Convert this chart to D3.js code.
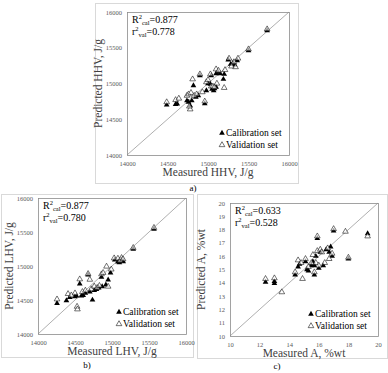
<!DOCTYPE html>
<html><head><meta charset="utf-8">
<script src="https://cdn.jsdelivr.net/npm/d3@7"></script>
<style>body{margin:0;background:#fff}svg{display:block}</style>
</head><body>
<svg id="c" width="388" height="373"></svg>
<script>
// ---- Data ----
const hhvTicks = [14000, 14500, 15000, 15500, 16000];
const hhvCal = [[14490,14700],[14600,14710],[14620,14715],[14740,14760],[14760,14740],[14780,14690],[14800,14760],[14820,14970],[14850,14810],[14880,14830],[14900,15110],[14960,14720],[14980,14900],[15000,15000],[15030,14990],[15040,15110],[15050,14920],[15070,14900],[15080,14930],[15100,14950],[15100,15140],[15120,15160],[15150,15140],[15190,15060],[15200,15130],[15250,15330],[15280,15270],[15310,15290],[15330,15260],[15360,15320],[15500,15460],[15730,15740]];
const hhvVal = [[14490,14740],[14600,14770],[14640,14790],[14740,14830],[14760,14850],[14780,14640],[14770,14680],[14790,14870],[14810,15060],[14830,14830],[14860,14850],[14900,15130],[14930,14880],[14960,14750],[14980,15020],[15000,15050],[15030,15130],[15040,14960],[15060,14960],[15080,14950],[15100,15200],[15110,15000],[15130,15180],[15200,14940],[15210,15190],[15260,15350],[15290,15240],[15320,15300],[15340,15230],[15370,15350],[15500,15480],[15730,15760]];

const lhvTicks = [14000, 14500, 15000, 15500, 16000];
const lhvCal = [[14257,14452],[14384,14491],[14429,14540],[14497,14550],[14520,14560],[14564,14737],[14587,14560],[14610,14570],[14640,14600],[14677,14870],[14700,14620],[14736,14501],[14760,14640],[14790,14658],[14820,14680],[14858,14835],[14867,14698],[14917,14722],[14948,14796],[14980,14900],[15038,15091],[15080,15060],[15100,15050],[15129,15091],[15151,15066],[15287,15248],[15567,15543]];
const lhvVal = [[14257,14511],[14406,14590],[14450,14570],[14500,14600],[14528,14403],[14533,14364],[14564,14806],[14600,14620],[14640,14640],[14677,14885],[14700,14800],[14720,14660],[14760,14700],[14800,14680],[14830,14710],[14858,14880],[14880,14900],[14926,14993],[14948,14698],[14990,14950],[15029,15115],[15080,15110],[15110,15080],[15129,15120],[15150,15100],[15287,15268],[15567,15563]];

const aXTicks = [10, 12, 14, 16, 18, 20];
const aYTicks = [10, 11, 12, 13, 14, 15, 16, 17, 18, 19, 20];
const aCal = [[12.4,14.05],[13.0,13.95],[13.0,14.1],[14.4,14.6],[14.6,15.2],[14.7,15.4],[15.1,15.6],[15.2,15.0],[15.3,14.9],[15.5,15.3],[15.6,15.6],[15.7,14.6],[15.7,15.3],[15.8,16.0],[15.9,17.35],[16.0,15.1],[16.1,16.3],[16.3,15.3],[16.5,16.5],[16.7,16.3],[16.8,16.7],[16.9,16.0],[17.0,17.9],[18.0,15.8],[19.3,17.7]];
const aVal = [[12.4,14.3],[13.0,14.35],[13.5,13.3],[14.4,14.8],[14.6,15.7],[14.8,15.5],[14.9,14.3],[15.1,15.8],[15.3,15.2],[15.5,15.5],[15.6,16.1],[15.7,14.8],[15.8,15.5],[15.9,17.5],[15.9,16.4],[16.0,15.3],[16.1,16.5],[16.2,16.3],[16.4,15.5],[16.6,16.6],[16.7,15.8],[16.9,16.2],[17.0,18.05],[17.8,17.85],[18.0,15.9],[19.3,17.5]];

const panels = [
  {box:[95,3,298,183], plot:[127,12,289,155], dom:[14000,16000], xt:hhvTicks, yt:hhvTicks,
   cal:hhvCal, val:hhvVal, xlab:"Measured HHV, J/g", ylab:"Predicted HHV, J/g",
   R:"0.877", r:"0.778", tag:"a)", tagPos:[193,191]},
  {box:[1,194,193,357], plot:[38,198,186,334], dom:[14000,16000], xt:lhvTicks, yt:lhvTicks,
   cal:lhvCal, val:lhvVal, xlab:"Measured LHV, J/g", ylab:"Predicted LHV, J/g",
   R:"0.877", r:"0.780", tag:"b)", tagPos:[87,368]},
  {box:[197,194,387,358], plot:[230,203,378,336], dom:[10,20], xt:aXTicks, yt:aYTicks,
   cal:aCal, val:aVal, xlab:"Measured A, %wt", ylab:"Predicted A, %wt",
   R:"0.633", r:"0.528", tag:"c)", tagPos:[277,369]}
];

const svg = d3.select("#c");
const serif = "'Liberation Serif','Times New Roman',serif";
const tri = d3.symbol().type(d3.symbolTriangle).size(14);

panels.forEach(p => {
  const g = svg.append("g");
  g.append("rect").attr("x", p.box[0]+0.5).attr("y", p.box[1]+0.5)
    .attr("width", p.box[2]-p.box[0]).attr("height", p.box[3]-p.box[1])
    .attr("fill", "#fff").attr("stroke", "#d9d9d9");
  const [x0,y0,x1,y1] = p.plot;
  const x = d3.scaleLinear().domain(p.dom).range([x0,x1]);
  const y = d3.scaleLinear().domain(p.dom).range([y1,y0]);
  g.append("rect").attr("x", x0+0.5).attr("y", y0+0.5).attr("width", x1-x0).attr("height", y1-y0)
    .attr("fill", "none").attr("stroke", "#8c8c8c").attr("stroke-width", 0.8);
  g.append("line").attr("x1", x(p.dom[0])).attr("y1", y(p.dom[0])).attr("x2", x(p.dom[1])).attr("y2", y(p.dom[1]))
    .attr("stroke", "#8c8c8c").attr("stroke-width", 0.7);
  const xa = g.append("g").attr("transform", `translate(0,${y1})`)
    .call(d3.axisBottom(x).tickValues(p.xt).tickSize(0).tickPadding(6).tickFormat(d3.format("d")));
  const ya = g.append("g").attr("transform", `translate(${x0},0)`)
    .call(d3.axisLeft(y).tickValues(p.yt).tickSize(0).tickPadding(5).tickFormat(d3.format("d")));
  [xa, ya].forEach(a => {
    a.select(".domain").remove();
    a.selectAll("text").attr("font-family", serif).attr("font-size", 6.5).attr("fill", "#595959");
  });
  g.selectAll(".cal").data(p.cal).join("path").attr("d", tri)
    .attr("transform", d => `translate(${x(d[0])},${y(d[1])})`).attr("fill", "#000");
  g.selectAll(".val").data(p.val).join("path").attr("d", tri)
    .attr("transform", d => `translate(${x(d[0])},${y(d[1])})`).attr("fill", "#fff").attr("fill-opacity", 0.6)
    .attr("stroke", "#000").attr("stroke-width", 0.55);
  g.append("text").attr("x", (x0+x1)/2).attr("y", y1+21).attr("text-anchor", "middle")
    .attr("font-family", serif).attr("font-size", 11.5).attr("fill", "#404040").text(p.xlab);
  g.append("text").attr("transform", `translate(${x0-25},${(y0+y1)/2}) rotate(-90)`).attr("text-anchor", "middle")
    .attr("font-family", serif).attr("font-size", 11.5).attr("fill", "#404040").text(p.ylab);
  const st = g.append("text").attr("x", x0+5).attr("y", y0+11).attr("font-family", serif).attr("font-size", 10).attr("fill", "#000");
  st.append("tspan").text("R");
  st.append("tspan").attr("dy", -4).attr("font-size", 6.5).text("2");
  st.append("tspan").attr("dy", 6).attr("font-size", 6.5).text("cal");
  st.append("tspan").attr("dy", -2).text("=" + p.R);
  const st2 = g.append("text").attr("x", x0+5).attr("y", y0+23).attr("font-family", serif).attr("font-size", 10).attr("fill", "#000");
  st2.append("tspan").text("r");
  st2.append("tspan").attr("dy", -4).attr("font-size", 6.5).text("2");
  st2.append("tspan").attr("dy", 6).attr("font-size", 6.5).text("val");
  st2.append("tspan").attr("dy", -2).text("=" + p.r);
  const lx = x1 - 67, ly = y1 - 19;
  g.append("path").attr("d", tri).attr("transform", `translate(${lx},${ly-3})`).attr("fill", "#000");
  g.append("text").attr("x", lx+4).attr("y", ly).attr("font-family", serif).attr("font-size", 9.5).attr("fill", "#000").text("Calibration set");
  g.append("path").attr("d", tri).attr("transform", `translate(${lx},${ly+9})`).attr("fill", "#fff").attr("stroke", "#000").attr("stroke-width", 0.55);
  g.append("text").attr("x", lx+4).attr("y", ly+12).attr("font-family", serif).attr("font-size", 9.5).attr("fill", "#000").text("Validation set");
  svg.append("text").attr("x", p.tagPos[0]).attr("y", p.tagPos[1]).attr("text-anchor", "middle")
    .attr("font-family", serif).attr("font-size", 9).attr("fill", "#000").text(p.tag);
});
</script>
</body></html>
